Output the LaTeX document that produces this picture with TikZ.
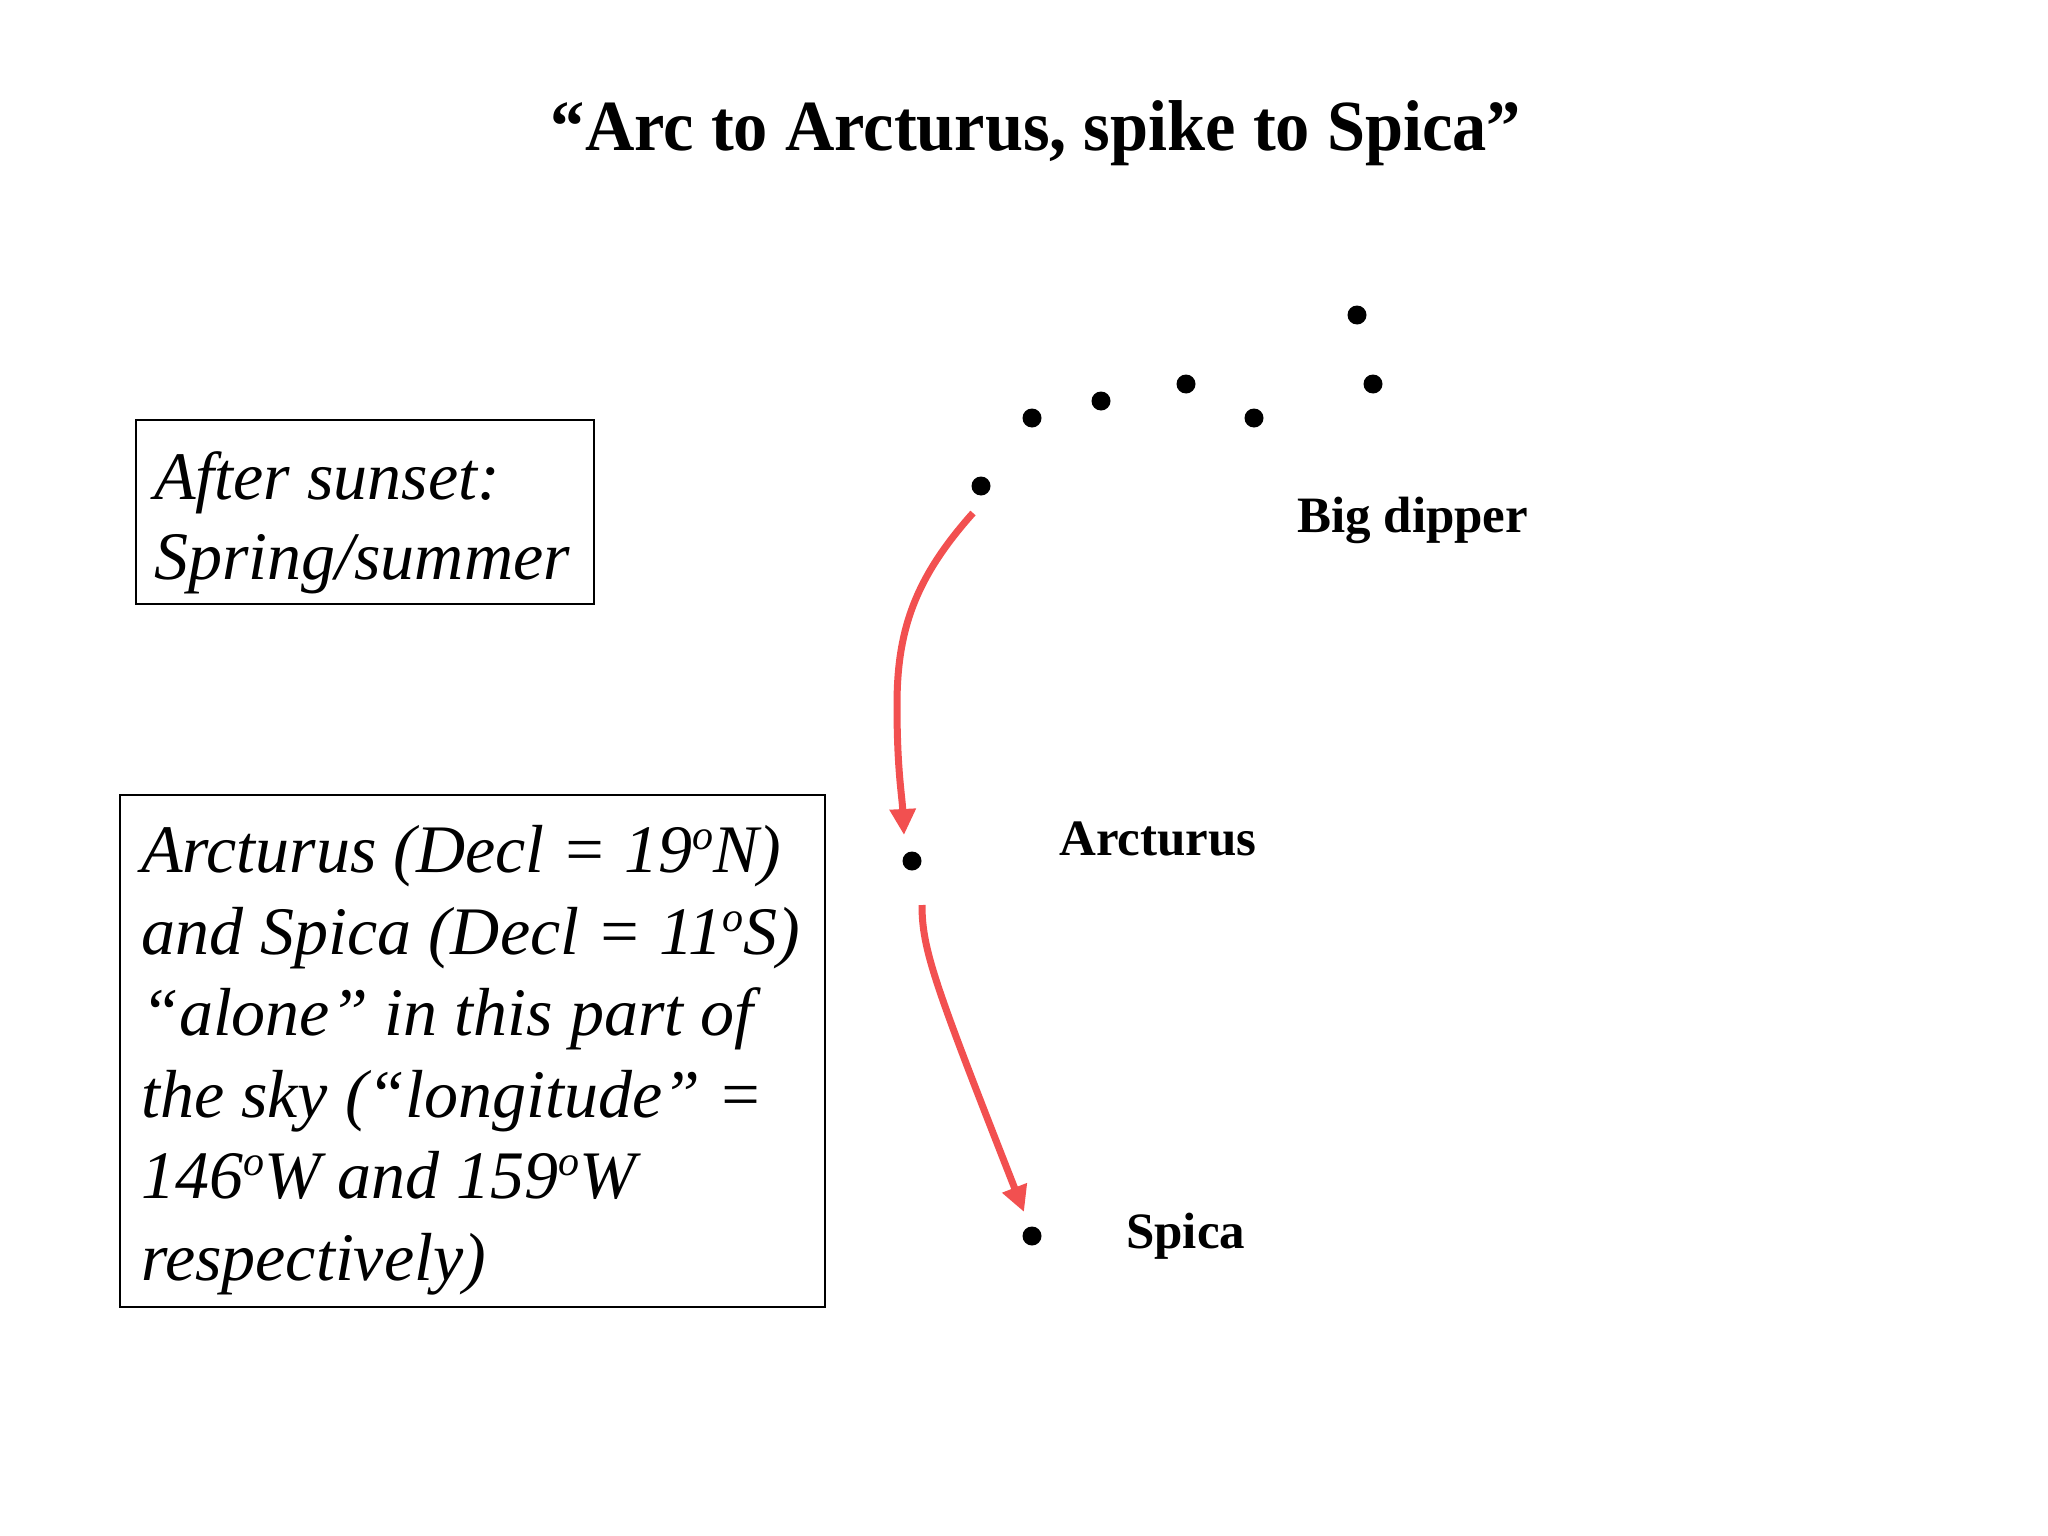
\documentclass[tikz,border=0pt]{standalone}
\usepackage{fontspec}
\setmainfont{Liberation Serif}
\newfontfamily\titlefont[FakeStretch=0.95]{Liberation Serif}
\usetikzlibrary{arrows.meta}
\definecolor{arrowred}{RGB}{242,80,80}
\newcommand{\dego}{\raisebox{0.33em}{\fontsize{42}{42}\selectfont o}}
\tikzset{
  star/.style={circle, fill=black, inner sep=0pt, minimum size=19pt},
  lbl/.style={anchor=base west, inner sep=0pt, font=\fontsize{51}{60}\selectfont\bfseries},
  boxline/.style={anchor=base west, inner sep=0pt, font=\fontsize{68}{80}\selectfont\itshape},
  frame/.style={draw=black, line width=2pt, inner sep=0pt, anchor=north west},
  redarrow/.style={draw=arrowred, line width=7pt, -{Triangle[width=25pt,length=26pt]}},
}
\begin{document}
\begin{tikzpicture}[x=1pt,y=-1pt]
\useasboundingbox (0,0) rectangle (2048,1536);
% title
\node[anchor=base, inner sep=0pt, font=\titlefont\fontsize{72}{80}\selectfont\bfseries] (title) at (1036,150) {“Arc to Arcturus, spike to Spica”};
% big dipper stars
\node[star] (d1) at (1357,315) {};
\node[star] (d2) at (1373,384) {};
\node[star] (d3) at (1186,384) {};
\node[star] (d4) at (1254,418) {};
\node[star] (d5) at (1101,401) {};
\node[star] (d6) at (1032,418) {};
\node[star] (d7) at (981,486) {};
\node[star] (arct) at (912,861) {};
\node[star] (spica) at (1032,1236) {};
% labels
\node[lbl] (lbig) at (1297,532) {Big dipper};
\node[lbl] (larct) at (1059,855) {Arcturus};
\node[lbl] (lspica) at (1126,1248) {Spica};
% arrows
\draw[redarrow] ([shift={(-8,27)}]d7.center) .. controls +(-58,65) and +(0,-75) .. ([shift={(-15,-156)}]arct.center) .. controls +(0,65) and +(-2,-40) .. ([shift={(-8,-26)}]arct.center);
\draw[redarrow] ([shift={(10,44)}]arct.center) .. controls +(0,45) and +(-89,-227) .. ([shift={(-8,-24)}]spica.center);
% box 1
\node[frame, minimum width=458pt, minimum height=184pt] (box1) at (134.5,419) {};
\node[boxline] (b1l1) at (154,499) {After sunset:};
\node[boxline] (b1l2) at (154,579) {Spring/summer};
% box 2
\node[frame, minimum width=705pt, minimum height=512pt] (box2) at (119,794) {};
\node[boxline] (b2l1) at (141,872) {Arcturus (Decl = 19\dego N)};
\node[boxline] (b2l2) at (141,954) {and Spica (Decl = 11\dego S)};
\node[boxline] (b2l3) at (141,1035) {“alone” in this part of};
\node[boxline] (b2l4) at (141,1117) {the sky (“longitude” =};
\node[boxline] (b2l5) at (141,1198) {146\dego W and 159\dego W};
\node[boxline] (b2l6) at (141,1280) {respectively)};
\end{tikzpicture}
\end{document}
